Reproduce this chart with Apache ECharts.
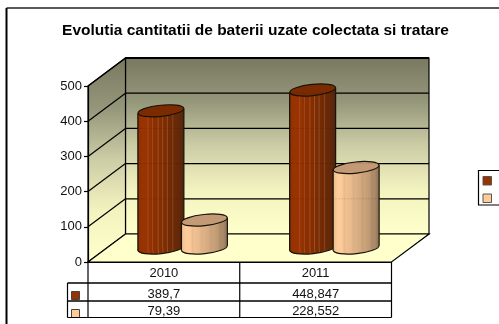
<!DOCTYPE html>
<html><head><meta charset="utf-8">
<style>html,body{margin:0;padding:0;background:#fff}#c{width:499px;height:324px}</style>
<script src="https://cdn.jsdelivr.net/npm/echarts@6/dist/echarts.min.js"></script>
</head><body><div id="c"></div>
<script>
var titleText = 'Evolutia cantitatii de baterii uzate colectata si tratare';
var categories = ['2010', '2011'];
var series1Values = [389.7, 448.847];
var series2Values = [79.39, 228.552];
var yTicks = [100, 200, 300, 400, 500];

var FONT = '"Liberation Sans", Arial, sans-serif';
var DX = 37.5, DY = 28, RX = 23, RY = 5.6, TILT = 2.4, ROT = 0.105, SHIFT = 21.75;
var INK = '#000';

function stripes(base) {
  var out = [], n = base.length;
  for (var i = 0; i < n; i++) out.push({offset: base[i][0], color: base[i][1]});
  return out;
}
var brownStops = stripes([[0,'#6e2a06'],[0.03,'#8f3204'],[0.1,'#993300'],[0.2,'#973404'],[0.22,'#a84a1c'],[0.24,'#953303'],[0.3,'#8e3000'],
  [0.32,'#a24a20'],[0.34,'#8c2f00'],[0.42,'#8a2f00'],[0.44,'#a0512a'],[0.46,'#862e00'],[0.52,'#832d00'],[0.54,'#9a5028'],[0.56,'#7e2c00'],
  [0.62,'#7a2c02'],[0.64,'#90502c'],[0.66,'#752b02'],[0.74,'#702a04'],[0.76,'#84492a'],[0.78,'#6c2a06'],[0.9,'#622808'],[1,'#4e2410']]);
var peachStops = stripes([[0,'#caa27c'],[0.04,'#f5c493'],[0.12,'#ffcc99'],[0.2,'#f9c997'],[0.24,'#e6bb90'],[0.28,'#f0c08f'],[0.4,'#e8ba8b'],
  [0.44,'#d8b088'],[0.48,'#dfb284'],[0.6,'#d4a980'],[0.64,'#c4a078'],[0.68,'#cba37b'],[0.8,'#bd9872'],[0.84,'#ab8b6a'],[0.9,'#ad8a68'],[1,'#8a7258']]);

function cylinder(values, sign, stops, topColor) {
  return function (params, api) {
    var p = api.coord([api.value(0), api.value(1)]);
    var b = api.coord([api.value(0), 0]);
    var cx = p[0] + DX / 2 + sign * SHIFT, yTop = p[1] - DY / 2, yBase = b[1] - DY / 2;
    var fill = new echarts.graphic.LinearGradient(cx - RX, 0, cx + RX, 0, stops, true);
    return {type: 'group', children: [
      {type: 'ellipse', originX: cx, originY: yBase, rotation: ROT, shape: {cx: cx, cy: yBase, rx: RX, ry: RY},
        style: {fill: fill, stroke: '#1a1208', lineWidth: 1.2}},
      {type: 'polygon', shape: {points: [[cx - RX, yTop + TILT], [cx + RX, yTop - TILT], [cx + RX, yBase - TILT], [cx - RX, yBase + TILT]]},
        style: {fill: fill}},
      {type: 'line', shape: {x1: cx - RX, y1: yTop + TILT, x2: cx - RX, y2: yBase + TILT}, style: {stroke: '#1a1208', lineWidth: 1.2}},
      {type: 'line', shape: {x1: cx + RX, y1: yTop - TILT, x2: cx + RX, y2: yBase - TILT}, style: {stroke: '#1a1208', lineWidth: 1.2}},
      {type: 'ellipse', originX: cx, originY: yTop, rotation: ROT, shape: {cx: cx, cy: yTop, rx: RX, ry: RY},
        style: {fill: topColor, stroke: '#1a1208', lineWidth: 1.2}}
    ]};
  };
}

function wallsItem(params) {
  var c = params.coordSys, L = c.x, R = c.x + c.width, T = c.y, B = c.y + c.height;
  var grad = new echarts.graphic.LinearGradient(0, 0, 0, 1, [
    {offset: 0, color: '#787860'}, {offset: 0.25, color: '#95977a'}, {offset: 0.5, color: '#cdcda6'},
    {offset: 0.75, color: '#f3f3c0'}, {offset: 1, color: '#ffffcc'}]);
  return {type: 'group', children: [
    {type: 'polygon', shape: {points: [[L + DX, T - DY], [R + DX, T - DY], [R + DX, B - DY], [L + DX, B - DY]]}, style: {fill: grad, stroke: INK, lineWidth: 1.2}},
    {type: 'polygon', shape: {points: [[L, T], [L + DX, T - DY], [L + DX, B - DY], [L, B]]}, style: {fill: grad, stroke: INK, lineWidth: 1.2}},
    {type: 'polygon', shape: {points: [[L, B], [L + DX, B - DY], [R + DX, B - DY], [R, B]]}, style: {fill: '#ffffcc', stroke: INK, lineWidth: 1.2}},
    {type: 'line', shape: {x1: L + DX, y1: T - DY, x2: R + DX, y2: T - DY}, style: {stroke: INK, lineWidth: 2}}
  ]};
}

function gridItem(params, api) {
  var c = params.coordSys, y = api.coord([0, api.value(1)])[1], L = c.x, R = c.x + c.width;
  return {type: 'group', children: [
    {type: 'line', shape: {x1: L, y1: y, x2: L + DX, y2: y - DY}, style: {stroke: INK, lineWidth: 1.2}},
    {type: 'line', shape: {x1: L + DX, y1: y - DY, x2: R + DX, y2: y - DY}, style: {stroke: INK, lineWidth: 1.2}}
  ]};
}

function overlayItem(params, api) {
  var c = params.coordSys, y = api.coord([0, api.value(1)])[1], L = c.x, R = c.x + c.width;
  return {type: 'line', shape: {x1: L + DX, y1: y - DY, x2: R + DX, y2: y - DY},
    style: {stroke: '#000', lineWidth: 1, opacity: 0.22, lineDash: [1, 2]}};
}

function fmt(v) { return String(v).replace('.', ','); }
var ROWS = [[283, 301, 294, series1Values, '#993300'], [301, 317.5, 311.5, series2Values, '#ffcc99']];

function tableItem(params) {
  var c = params.coordSys, L = c.x, R = c.x + c.width, M = c.x + c.width / 2, B = c.y + c.height, X0 = 67.5;
  var kids = [];
  ROWS.forEach(function (r) {
    r[3].forEach(function (v, i) {
      kids.push({type: 'text', style: {x: L + (i + 0.5) * c.width / 2, y: r[2], text: fmt(v), font: '13px ' + FONT, fill: '#111', align: 'center', verticalAlign: 'middle'}});
    });
    kids.push({type: 'rect', shape: {x: 71.5, y: r[0] + 8.5, width: 8, height: 8}, style: {fill: r[4], stroke: '#444', lineWidth: 1}});
  });
  var seg = [[X0, 283, R, 283, 1.5], [X0, 301, R, 301, 1.5], [X0, 317.5, R, 317.5, 1.2], [X0, 283, X0, 317.5, 1.2],
    [L, B, L, 317.5, 1.2], [M, B, M, 317.5, 1.2], [R, B, R, 317.5, 1.2]];
  seg.forEach(function (s) {
    kids.push({type: 'line', shape: {x1: s[0], y1: s[1], x2: s[2], y2: s[3]}, style: {stroke: INK, lineWidth: s[4]}});
  });
  return {type: 'group', children: kids};
}

var chart = echarts.init(document.getElementById('c'), null, {renderer: 'canvas'});
chart.setOption({
  animation: false,
  backgroundColor: '#fff',
  title: {text: titleText, left: 250.5, top: 18, textAlign: 'center',
    textStyle: {fontFamily: FONT, fontSize: 15.5, fontWeight: 'bold', color: '#000'}},
  grid: {left: 88, top: 86, width: 303.5, height: 176},
  xAxis: {type: 'category', data: categories, z: 6,
    axisLine: {lineStyle: {color: INK, width: 1.2}}, axisTick: {show: false},
    axisLabel: {margin: 5, fontFamily: FONT, fontSize: 13, color: '#111'}},
  yAxis: {type: 'value', min: 0, max: 500, interval: 100, z: 6,
    axisLine: {show: true, lineStyle: {color: INK, width: 1.2}},
    axisTick: {show: true, length: 4, lineStyle: {color: INK, width: 1.2}},
    splitLine: {show: false},
    axisLabel: {margin: 6, fontFamily: FONT, fontSize: 13, color: '#111'}},
  series: [
    {type: 'custom', name: 'walls', z: 1, silent: true, data: [[0, 0]], renderItem: wallsItem},
    {type: 'custom', name: 'grid', z: 2, silent: true, data: yTicks.map(function (t) { return [0, t]; }), renderItem: gridItem},
    {type: 'custom', name: 'Seria 1', z: 3, data: series1Values.map(function (v, i) { return [i, v]; }), renderItem: cylinder(series1Values, -1, brownStops, '#7a2c00')},
    {type: 'custom', name: 'Seria 2', z: 4, data: series2Values.map(function (v, i) { return [i, v]; }), renderItem: cylinder(series2Values, 1, peachStops, '#c49a76')},
    {type: 'custom', name: 'overlay', z: 5, silent: true, data: yTicks.map(function (t) { return [0, t]; }), renderItem: overlayItem},
    {type: 'custom', name: 'table', z: 7, silent: true, data: [[0, 0]], renderItem: tableItem}
  ],
  graphic: [
    {type: 'line', shape: {x1: 6.5, y1: 8, x2: 499, y2: 8}, style: {stroke: '#222', lineWidth: 1.5}},
    {type: 'line', shape: {x1: 6.5, y1: 8, x2: 6.5, y2: 324}, style: {stroke: '#000', lineWidth: 2}},
    {type: 'rect', shape: {x: 478.5, y: 170.5, width: 40, height: 34.5}, style: {fill: '#fff', stroke: '#000', lineWidth: 1.2}},
    {type: 'rect', shape: {x: 483, y: 176.5, width: 8.5, height: 8.5}, style: {fill: '#993300', stroke: '#555', lineWidth: 1}},
    {type: 'rect', shape: {x: 483, y: 194, width: 8.5, height: 8.5}, style: {fill: '#ffcc99', stroke: '#555', lineWidth: 1}}
  ]
});
</script></body></html>
